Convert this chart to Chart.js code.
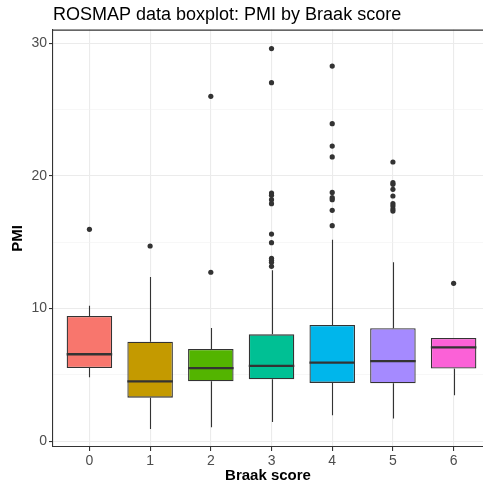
<!DOCTYPE html>
<html>
<head>
<meta charset="utf-8">
<title>ROSMAP PMI by Braak score</title>
<script src="https://cdn.jsdelivr.net/npm/chart.js@4.4.1/dist/chart.umd.min.js"></script>
<style>
	html, body { margin: 0; padding: 0; background: #fff; }
	canvas { display: block; }
</style>
</head>
<body>
<canvas id="chart_pmi" width="483" height="488"></canvas>
<script>
// Box statistics per Braak score
const braak = [0, 1, 2, 3, 4, 5, 6];
const whiskerLow = [4.82, 0.93, 1.06, 1.46, 1.96, 1.71, 3.47];
const q1 = [5.52, 3.29, 4.52, 4.67, 4.40, 4.37, 5.48];
const medians = [6.56, 4.52, 5.52, 5.68, 5.93, 6.05, 7.08];
const q3 = [9.44, 7.51, 6.96, 8.06, 8.77, 8.52, 7.79];
const whiskerHigh = [10.22, 12.38, 8.54, 12.89, 15.20, 13.49, 7.79];
const outliers = [
	[15.98],
	[14.72],
	[12.74, 26.0],
	[29.6, 27.03, 18.71, 18.54, 18.21, 17.91, 15.62, 14.97, 13.79, 13.64, 13.49, 13.19],
	[28.28, 23.94, 22.25, 21.43, 18.76, 18.36, 18.21, 17.41, 16.25],
	[21.05, 19.49, 19.37, 18.99, 18.49, 17.91, 17.73, 17.50, 17.35],
	[11.91]
];
const fills = ['#F8766D', '#C49A00', '#53B400', '#00C094', '#00B6EB', '#A58AFF', '#FB61D7'];
const yTicks = [0, 5, 10, 15, 20, 25, 30];

const ink = '#333333';
const font = '"Liberation Sans", Arial, Helvetica, sans-serif';

let boxes = braak.map((b, i) => ({ x: b, y: [q1[i], q3[i]] }));
let points = [];
braak.forEach((b, i) => {
	outliers[i].forEach(v => points.push({ x: b, y: v }));
});

// whiskers behind the boxes, medians on top, plus the panel's top edge
const boxLines = {
	id: 'boxLines',
	beforeDatasetsDraw(chart) {
		let ctx = chart.ctx;
		let xs = chart.scales.x, ys = chart.scales.y;
		ctx.save();
		ctx.strokeStyle = ink;
		ctx.lineWidth = 1.1;
		braak.forEach((b, i) => {
			let px = Math.round(xs.getPixelForValue(b)) + 0.5;
			ctx.beginPath();
			ctx.moveTo(px, ys.getPixelForValue(q3[i]));
			ctx.lineTo(px, ys.getPixelForValue(whiskerHigh[i]));
			ctx.moveTo(px, ys.getPixelForValue(q1[i]));
			ctx.lineTo(px, ys.getPixelForValue(whiskerLow[i]));
			ctx.stroke();
		});
		ctx.restore();
	},
	afterDatasetsDraw(chart) {
		let ctx = chart.ctx;
		let ys = chart.scales.y;
		let bars = chart.getDatasetMeta(0).data;
		ctx.save();
		ctx.strokeStyle = ink;
		ctx.lineWidth = 2.3;
		bars.forEach((bar, i) => {
			let py = ys.getPixelForValue(medians[i]);
			ctx.beginPath();
			ctx.moveTo(bar.x - bar.width / 2, py);
			ctx.lineTo(bar.x + bar.width / 2, py);
			ctx.stroke();
		});
		let area = chart.chartArea;
		ctx.lineWidth = 1.1;
		ctx.beginPath();
		ctx.moveTo(area.left, area.top + 0.5);
		ctx.lineTo(area.right, area.top + 0.5);
		ctx.stroke();
		ctx.restore();
	}
};

let ctx = document.getElementById('chart_pmi');
let pmiChart = new Chart(ctx, {
	type: 'bar',
	data: {
		datasets: [
			{
				data: boxes,
				backgroundColor: fills,
				borderColor: ink,
				borderWidth: 1.3,
				borderSkipped: false,
				categoryPercentage: 1,
				barPercentage: 0.75,
				order: 2
			},
			{
				type: 'scatter',
				data: points,
				pointRadius: 2.6,
				pointBackgroundColor: ink,
				pointBorderWidth: 0,
				order: 1
			}
		]
	},
	options: {
		responsive: false,
		animation: false,
		layout: { autoPadding: false, padding: 0 },
		plugins: {
			legend: { display: false },
			tooltip: { enabled: false },
			title: {
				display: true,
				text: 'ROSMAP data boxplot: PMI by Braak score',
				align: 'start',
				fullSize: false,
				color: '#000',
				font: { family: font, size: 18, weight: 'normal', lineHeight: 1.2 },
				padding: { top: 4, bottom: 4 }
			}
		},
		scales: {
			x: {
				type: 'linear',
				offset: false,
				min: -0.6,
				max: 6.484,
				afterBuildTicks: scale => {
					scale.ticks = braak.map(v => ({ value: v }));
				},
				afterFit: scale => {
					scale.height = 41;
					scale.paddingRight = 0;
				},
				grid: {
					offset: false,
					color: '#ebebeb',
					lineWidth: 1.1,
					tickColor: ink,
					tickLength: 4,
					tickWidth: 1.1
				},
				border: { display: true, color: ink, width: 1.1 },
				ticks: {
					color: '#4d4d4d',
					padding: 2,
					maxRotation: 0,
					autoSkip: false,
					font: { family: font, size: 14 },
					callback: v => String(v)
				},
				title: {
					display: true,
					text: 'Braak score',
					color: '#000',
					font: { family: font, size: 15, weight: 'bold', lineHeight: 1.2 },
					padding: { top: 0, bottom: 3 }
				}
			},
			y: {
				min: -0.43,
				max: 31.03,
				afterBuildTicks: scale => {
					scale.ticks = yTicks.map(v => ({ value: v }));
				},
				afterFit: scale => { scale.width = 53; },
				grid: {
					color: c => c.tick && c.tick.value % 10 === 0 ? '#ebebeb' : '#f2f2f2',
					lineWidth: c => c.tick && c.tick.value % 10 === 0 ? 1.1 : 0.6,
					tickColor: c => c.tick && c.tick.value % 10 === 0 ? ink : 'rgba(0,0,0,0)',
					tickLength: 4,
					tickWidth: 1.1
				},
				border: { display: true, color: ink, width: 1.1 },
				ticks: {
					color: '#4d4d4d',
					padding: 2,
					autoSkip: false,
					font: { family: font, size: 14 },
					callback: v => v % 10 === 0 ? String(v) : ''
				},
				title: {
					display: true,
					text: 'PMI',
					color: '#000',
					font: { family: font, size: 15, weight: 'bold', lineHeight: 1.2 },
					padding: { top: 9, bottom: 0 }
				}
			}
		}
	},
	plugins: [boxLines]
});
</script>
</body>
</html>
